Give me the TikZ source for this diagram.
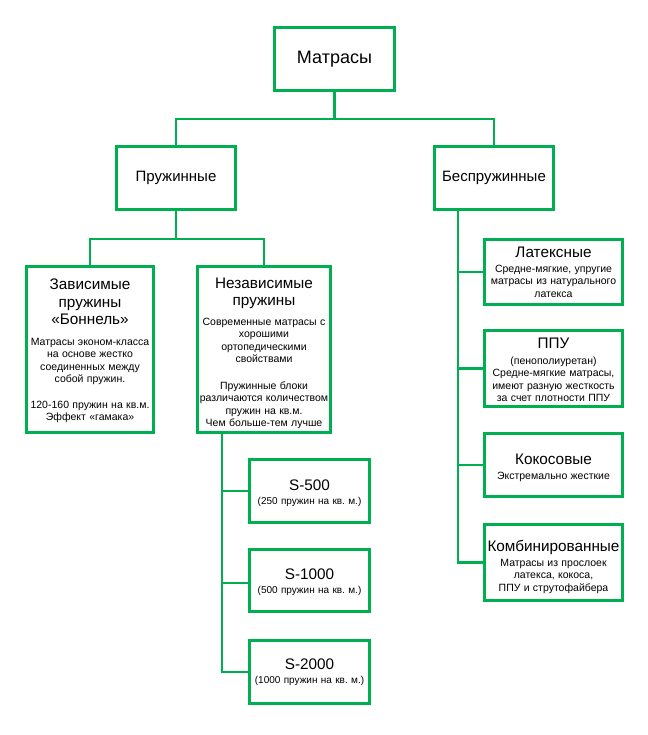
\documentclass[tikz,border=0pt]{standalone}
\usepackage{fontspec}
\setmainfont{Liberation Sans}
\frenchspacing
\definecolor{grn}{RGB}{0,176,80}
\newcommand{\ttl}{\fontsize{15.3}{17.5}\selectfont}
\newcommand{\bigttl}{\fontsize{18}{21}\selectfont}
\newcommand{\sml}{\fontsize{10.5}{12.5}\selectfont}
\newcommand{\smlb}{\fontsize{10}{11.8}\selectfont}
\begin{document}
\begin{tikzpicture}[x=1pt,y=-1pt,
  box/.style={draw=grn, line width=2.8pt, rectangle, inner sep=0pt, align=center, text=black},
  txt/.style={inner sep=0pt, align=center, text=black},
  conn/.style={draw=grn, line width=2.8pt}]
\useasboundingbox[fill=white] (0,0) rectangle (647,735);
% top level
\node[box, minimum width=120, minimum height=63] (mat) at (334.5,59) {\bigttl Матрасы};
\node[box, minimum width=119, minimum height=63] (pruj) at (176,178) {\fontsize{15}{17}\selectfont Пружинные};
\node[box, minimum width=119, minimum height=63] (bespr) at (494,178) {\fontsize{15}{17}\selectfont Беспружинные};
% spring types
\node[box, minimum width=127, minimum height=166] (zav) at (90,349.5) {};
\node[txt, text width=127] (zavt) at ([yshift=-1.5pt]zav.center)
  {{\ttl Зависимые\\пружины\\«Боннель»\par}\vspace{8pt}{\sml Матрасы эконом-класса\\на основе жестко\\соединенных между\\собой пружин.\\[13pt]120-160 пружин на кв.м.\\Эффект «гамака»\par}};
\node[box, minimum width=133, minimum height=166] (nezav) at (264,349.5) {};
\node[txt, text width=133] (nezavt) at ([yshift=-4pt]nezav.center)
  {{\ttl Независимые\\пружины\par}\vspace{7pt}{\sml Современные матрасы с\\хорошими\\ортопедическими\\свойствами\\[14pt]Пружинные блоки\\различаются количеством\\пружин на кв.м.\\Чем больше-тем лучше\par}};
% springless
\node[box, minimum width=138, minimum height=65] (lat) at (553.5,272) {};
\node[txt, text width=138] (latt) at (lat.center)
  {{\ttl Латексные\par}\vspace{2.5pt}{\sml Средне-мягкие, упругие\\матрасы из натурального\\латекса\par}};
\node[box, minimum width=138, minimum height=76] (ppu) at (553.5,368.5) {};
\node[txt, text width=138] (pput) at ([yshift=-1.5pt]ppu.center)
  {{\ttl ППУ\par}\vspace{3.5pt}{\sml (пенополиуретан)\\Средне-мягкие матрасы,\\имеют разную жесткость\\за счет плотности ППУ\par}};
\node[box, minimum width=138, minimum height=63] (kok) at (553.5,465) {};
\node[txt, text width=138] (kokt) at ([yshift=-3pt]kok.center)
  {{\ttl Кокосовые\par}\vspace{2pt}{\sml Экстремально жесткие\par}};
\node[box, minimum width=138, minimum height=76] (komb) at (553.5,562.5) {};
\node[txt, text width=138] (kombt) at ([yshift=-4.5pt]komb.center)
  {{\ttl Комбинированные\par}\vspace{2pt}{\sml Матрасы из прослоек\\латекса, кокоса,\\ППУ и струтофайбера\par}};
% S blocks
\node[box, minimum width=120, minimum height=63] (s500) at (309.5,491) {};
\node[txt, text width=120] (s500t) at ([yshift=-2pt]s500.center)
  {{\ttl S-500\par}\vspace{2pt}{\smlb (250 пружин на кв. м.)\par}};
\node[box, minimum width=120, minimum height=62] (s1000) at (309.5,580.5) {};
\node[txt, text width=120] (s1000t) at ([yshift=-2pt]s1000.center)
  {{\ttl S-1000\par}\vspace{2pt}{\smlb (500 пружин на кв. м.)\par}};
\node[box, minimum width=120, minimum height=63] (s2000) at (309.5,672) {};
\node[txt, text width=120] (s2000t) at ([yshift=-0.5pt]s2000.center)
  {{\ttl S-2000\par}\vspace{2pt}{\smlb (1000 пружин на кв. м.)\par}};
% connectors
\coordinate (j1) at (334.5,119);
\coordinate (j2) at (176,239);
\coordinate (b0) at (458,209.5);
\coordinate (n0) at (222,432.5);
\draw[conn] (mat.south) -- (j1);
\draw[conn] (pruj.north) |- (j1) -| (bespr.north);
\draw[conn] (pruj.south) -- (j2);
\draw[conn] (zav.north) |- (j2) -| (nezav.north);
\draw[conn] (b0) |- (lat.west);
\draw[conn] (b0) |- (ppu.west);
\draw[conn] (b0) |- (kok.west);
\draw[conn] (b0) |- (komb.west);
\draw[conn] (n0) |- (s500.west);
\draw[conn] (n0) |- ([yshift=-2.5pt]s1000.west);
\draw[conn] (n0) |- (s2000.west);
\end{tikzpicture}
\end{document}
